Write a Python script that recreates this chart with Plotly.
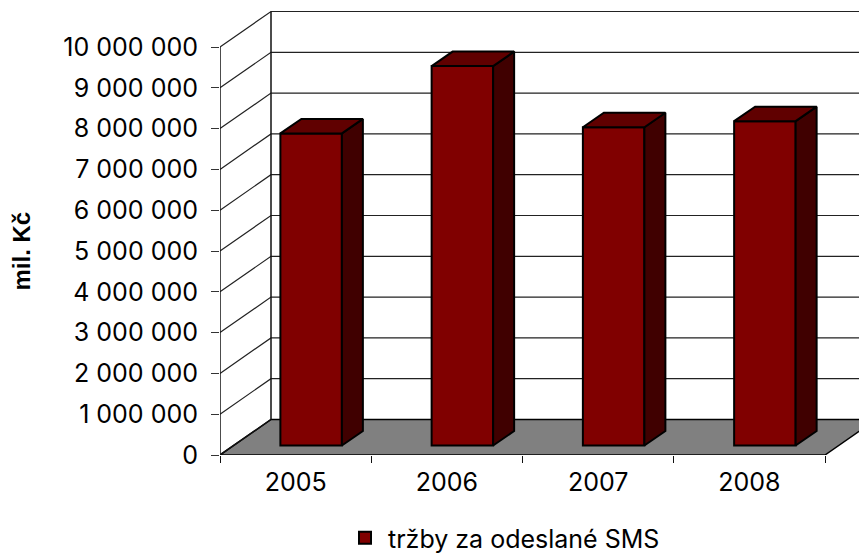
import plotly.graph_objects as go

categories = ["2005", "2006", "2007", "2008"]
sales = [7650000, 9300000, 7800000, 7950000]
y_ticks = [0, 1000000, 2000000, 3000000, 4000000, 5000000, 6000000, 7000000, 8000000, 9000000, 10000000]
y_labels = ["0", "1 000 000", "2 000 000", "3 000 000", "4 000 000", "5 000 000",
            "6 000 000", "7 000 000", "8 000 000", "9 000 000", "10 000 000"]
series_name = "tržby za odeslané SMS"
y_title = "mil. Kč"

FONT = "Inter, Liberation Sans, Arial, sans-serif"
# the page body has an 8 px margin, so the figure is 8 px smaller than the window
W, H = 859, 545
ML, MT, MB = 212, 0, 98
CAT_PX = 151.25
VAL_PX = 40.8 / 1e6
n = len(categories)
XMAX = (W - ML) / CAT_PX
YMAX = (H - MT - MB) / VAL_PX

wall_dx, wall_dy = 51 / CAT_PX, 35.5 / VAL_PX
bar_w = 61.5 / CAT_PX
bar_shift = 15.5 / CAT_PX
bar_base = 9.5 / VAL_PX
side_dx, side_dy = 21 / CAT_PX, 14.5 / VAL_PX
centers = [i + 0.5 + bar_shift for i in range(n)]

fig = go.Figure()

# floor
fig.add_trace(go.Scatter(
    x=[0, wall_dx, n + wall_dx, n, 0], y=[0, wall_dy, wall_dy, 0, 0],
    mode="lines", fill="toself", fillcolor="#808080",
    line=dict(color="#000000", width=1.5), showlegend=False, hoverinfo="skip"))

# grid on the side and back walls
gx, gy = [], []
for v in y_ticks[1:]:
    gx += [0, wall_dx, XMAX, None]
    gy += [v, v + wall_dy, v + wall_dy, None]
fig.add_trace(go.Scatter(x=gx, y=gy, mode="lines", line=dict(color="#222222", width=1.2),
                         showlegend=False, hoverinfo="skip"))

# wall edges and front value axis
ex = [0, 0, None, wall_dx, wall_dx, None, 0, wall_dx]
ey = [0, y_ticks[-1], None, wall_dy, y_ticks[-1] + wall_dy, None, 0, wall_dy]
fig.add_trace(go.Scatter(x=ex, y=ey, mode="lines", line=dict(color="#111111", width=1.5),
                         showlegend=False, hoverinfo="skip"))

# front faces
fig.add_trace(go.Bar(
    x=centers, y=sales, base=bar_base, width=bar_w, name=series_name,
    marker=dict(color="#800000", line=dict(color="#000000", width=2)),
    xaxis="x2", yaxis="y2", hoverinfo="skip"))

# side and top faces
for c, v in zip(centers, sales):
    l, r = c - bar_w / 2, c + bar_w / 2
    t = bar_base + v
    fig.add_trace(go.Scatter(
        x=[r, r + side_dx, r + side_dx, r, r],
        y=[bar_base, bar_base + side_dy, t + side_dy, t, bar_base],
        mode="lines", fill="toself", fillcolor="#400000",
        line=dict(color="#000000", width=2), xaxis="x2", yaxis="y2",
        showlegend=False, hoverinfo="skip"))
    fig.add_trace(go.Scatter(
        x=[l, l + side_dx, r + side_dx, r, l],
        y=[t, t + side_dy, t + side_dy, t, t],
        mode="lines", fill="toself", fillcolor="#600000",
        line=dict(color="#000000", width=2), xaxis="x2", yaxis="y2",
        showlegend=False, hoverinfo="skip"))

fig.update_layout(
    width=W, height=H, autosize=False,
    margin=dict(l=ML, r=0, t=MT, b=MB, pad=0, autoexpand=False),
    paper_bgcolor="#ffffff", plot_bgcolor="#ffffff",
    font=dict(family=FONT, size=25, color="#000000"),
    showlegend=True,
    legend=dict(x=(342 - 220) / (W - ML), y=(455 - 515) / (H - MT - MB), xanchor="left", yanchor="top",
                font=dict(size=25), bgcolor="rgba(0,0,0,0)", itemwidth=36),
    xaxis=dict(range=[0, XMAX], tickmode="array",
               tickvals=[i + 0.5 for i in range(n)], ticktext=categories,
               ticks="", showgrid=False, zeroline=False, showline=False,
               ticklabelstandoff=10, tickfont=dict(size=25), fixedrange=True),
    xaxis2=dict(range=[0, XMAX], overlaying="x", anchor="y2", side="bottom",
                tickmode="array", tickvals=list(range(n + 1)), ticktext=[""] * (n + 1),
                ticks="outside", ticklen=7, tickwidth=1.2, tickcolor="#111111",
                showticklabels=False, showgrid=False, zeroline=False, showline=False, fixedrange=True),
    yaxis=dict(range=[0, YMAX], tickmode="array", tickvals=y_ticks, ticktext=y_labels,
               ticks="outside", ticklen=8, tickwidth=1.2, tickcolor="#333333",
               showgrid=False, zeroline=False, showline=False,
               ticklabelstandoff=8, tickfont=dict(size=25), fixedrange=True),
    yaxis2=dict(range=[0, YMAX], overlaying="y", anchor="x2", visible=False, fixedrange=True),
    annotations=[dict(text="<b>" + y_title + "</b>", xref="paper", yref="paper",
                      x=(20.5 - 220) / (W - ML), y=(455 - 251) / (H - MT - MB),
                      xanchor="center", yanchor="middle", textangle=-90, showarrow=False,
                      font=dict(family="Liberation Sans, Arial, sans-serif", size=24))],
)

fig.write_html("out.html")
